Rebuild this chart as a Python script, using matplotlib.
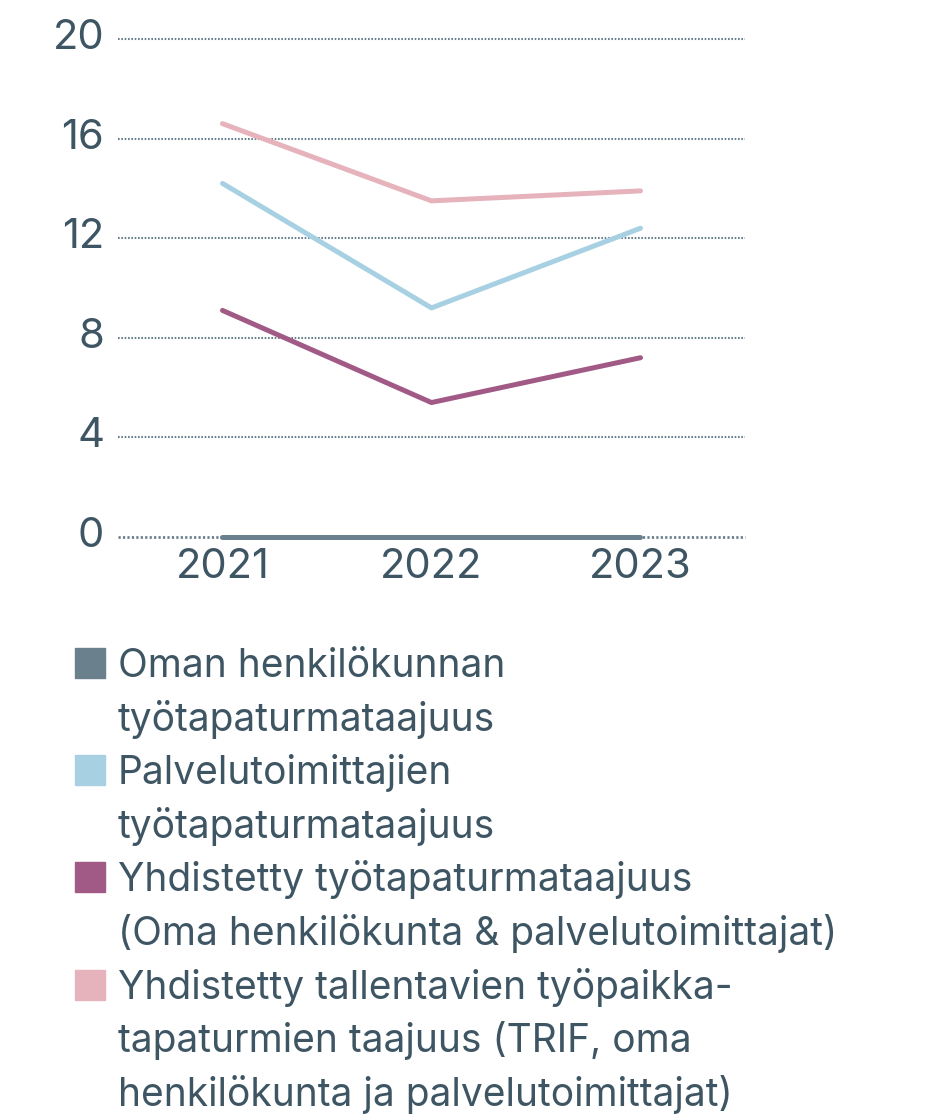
import matplotlib
matplotlib.use("Agg")
import matplotlib.pyplot as plt
from matplotlib.patches import Rectangle
from matplotlib.transforms import ScaledTranslation

plt.rcParams['font.family'] = ['Inter', 'DejaVu Sans']

years = ['2021', '2022', '2023']
own_staff = [0.0, 0.0, 0.0]
suppliers = [14.2, 9.2, 12.4]
combined = [9.1, 5.4, 7.2]
trif = [16.6, 13.5, 13.9]

series = [own_staff, suppliers, combined, trif]
colors = ['#6b808d', '#a7d1e3', '#a15a85', '#e6b3bc']
labels = [
    ['Oman henkilökunnan', 'työtapaturmataajuus'],
    ['Palvelutoimittajien', 'työtapaturmataajuus'],
    ['Yhdistetty työtapaturmataajuus', '(Oma henkilökunta & palvelutoimittajat)'],
    ['Yhdistetty tallentavien työpaikka-', 'tapaturmien taajuus (TRIF, oma',
     'henkilökunta ja palvelutoimittajat)'],
]
yticks = [0, 4, 8, 12, 16, 20]

text_col = '#3e5563'
grid_col = '#6b808d'

fig = plt.figure(figsize=(9.28, 11.14), dpi=100)
ax = fig.add_axes([118/928, 1 - 537/1114, 627/928, 498/1114])

x = list(range(len(years)))
for vals, col in zip(series, colors):
    ax.plot(x, vals, color=col, lw=3.6, solid_capstyle='round',
            solid_joinstyle='round', clip_on=False, zorder=3)

for t in yticks:
    ax.axhline(t, color=grid_col, lw=2.0 if t == 0 else 1.5,
               ls=(0, (0.8, 0.8)), zorder=1, clip_on=False)

ax.set_xlim(-0.5, 2.5)
ax.set_ylim(0, 20)
ax.set_xticks(x)
ax.set_xticklabels(years)
ax.set_yticks(yticks)
ax.tick_params(length=0, labelsize=30, colors=text_col)
ax.tick_params(axis='y', pad=10)
ax.tick_params(axis='x', pad=8)
for s in ax.spines.values():
    s.set_visible(False)

# nudge the y labels up a little
shift = ScaledTranslation(0, 5/100, fig.dpi_scale_trans)
for lbl in ax.get_yticklabels():
    lbl.set_transform(lbl.get_transform() + shift)

# legend drawn by hand so the swatch sits at the first line of each entry
line_h = 53.6
base = 677
row = 0
for lab, col in zip(labels, colors):
    yb = base + row * line_h
    fig.patches.append(Rectangle((75/928, 1 - (yb + 1)/1114), 30/928, 30/1114,
                                 transform=fig.transFigure, color=col))
    for line in lab:
        fig.text(118/928, 1 - (base + row * line_h)/1114, line, fontsize=28,
                 color=text_col, va='baseline', ha='left')
        row += 1

fig.savefig('out.png', dpi=100)
